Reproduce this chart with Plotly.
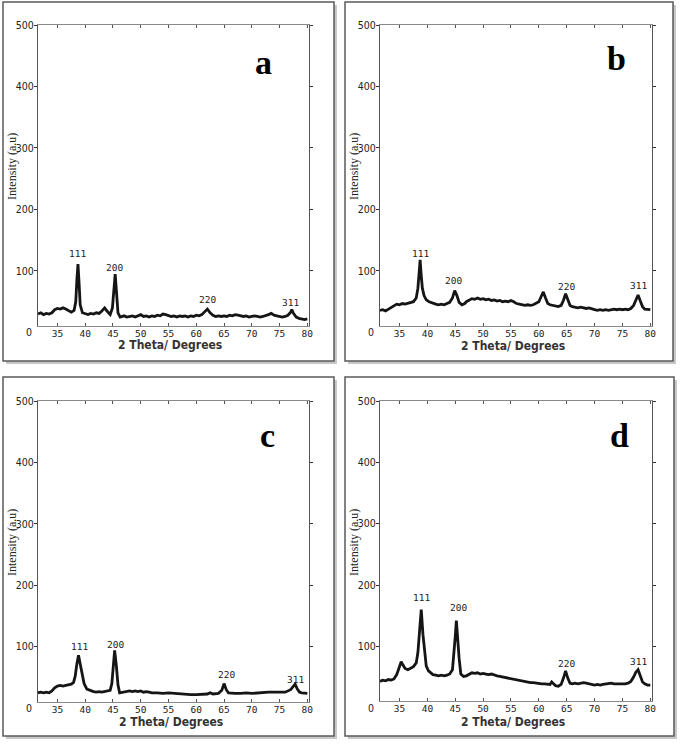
import plotly.graph_objects as go

# ---------------- data ----------------
panel_letters = ["a", "b", "c", "d"]
peak_labels = ["111", "200", "220", "311"]

a_x = [31.5, 32, 32.5, 33, 33.5, 34, 34.5, 35, 35.5, 36, 36.5, 37, 37.5, 38, 38.3, 38.5, 38.7, 38.9, 39.1, 39.5,
       40, 40.5, 41, 41.5, 42, 42.5, 43, 43.5, 44, 44.5, 44.9, 45.2, 45.4, 45.6, 45.9, 46.3, 47, 47.5, 48, 48.5,
       49, 49.5, 50, 50.5, 51, 51.5, 52, 52.5, 53, 53.5, 54, 54.5, 55, 55.5, 56, 56.5, 57, 57.5, 58, 58.5,
       59, 59.5, 60, 60.5, 61, 61.5, 62, 62.5, 63, 63.5, 64, 64.5, 65, 65.5, 66, 66.5, 67, 67.5, 68, 68.5,
       69, 69.5, 70, 70.5, 71, 71.5, 72, 72.5, 73, 73.5, 74, 74.5, 75, 75.5, 76, 76.5, 77, 77.2, 77.5, 78,
       78.5, 79, 79.5, 80]
a_y = [30, 32, 29, 31, 30, 32, 37, 39, 38, 40, 38, 36, 33, 36, 50, 85, 111, 80, 45, 32,
       31, 29, 31, 30, 32, 31, 35, 40, 34, 29, 40, 80, 95, 70, 32, 25, 27, 25, 26, 27,
       25, 27, 29, 26, 27, 25, 27, 26, 28, 27, 30, 29, 28, 26, 27, 25, 27, 26, 27, 25,
       27, 26, 28, 27, 29, 33, 38, 32, 28, 26, 27, 26, 27, 26, 28, 27, 29, 28, 27, 26,
       27, 25, 26, 27, 26, 25, 26, 27, 29, 31, 28, 27, 26, 25, 26, 28, 33, 37, 31, 25,
       23, 22, 21, 22]

b_x = [31.5, 32, 32.5, 33, 33.5, 34, 34.5, 35, 35.5, 36, 36.5, 37, 37.5, 38, 38.3, 38.5, 38.7, 38.9, 39.1, 39.4,
       39.8, 40.3, 41, 41.5, 42, 42.5, 43, 43.5, 44, 44.5, 44.9, 45.3, 45.7, 46.2, 46.7, 47, 47.5, 48, 48.5, 49,
       49.5, 50, 50.5, 51, 51.5, 52, 52.5, 53, 53.5, 54, 54.5, 55, 55.5, 56, 56.5, 57, 57.5, 58, 58.5, 59,
       59.5, 60, 60.4, 60.8, 61.2, 61.6, 62, 62.5, 63, 63.5, 64, 64.4, 64.8, 65.2, 65.6, 66, 66.5, 67, 67.5, 68,
       68.5, 69, 69.5, 70, 70.5, 71, 71.5, 72, 72.5, 73, 73.5, 74, 74.5, 75, 75.5, 76, 76.5, 77, 77.4, 77.8,
       78.2, 78.6, 79, 79.5, 80]
b_y = [36, 37, 35, 38, 40, 44, 46, 45, 47, 46, 47, 48, 50, 56, 72, 95, 118, 92, 72, 60,
       53, 50, 47, 46, 45, 46, 45, 47, 49, 56, 68, 60, 49, 45, 47, 50, 53, 55, 54, 56,
       54, 55, 53, 54, 52, 53, 51, 52, 50, 51, 50, 52, 50, 47, 46, 45, 44, 45, 44, 45,
       47, 50, 58, 66, 56, 47, 45, 44, 43, 42, 44, 52, 63, 52, 44, 42, 41, 40, 41, 40,
       39, 40, 38, 37, 36, 37, 36, 37, 36, 37, 38, 37, 38, 37, 38, 37, 39, 44, 53, 61,
       51, 42, 38, 37, 37]

c_x = [31.5, 32, 32.5, 33, 33.5, 34, 34.5, 35, 35.5, 36, 36.5, 37, 37.5, 37.9, 38.2, 38.5, 38.8, 39.1, 39.4, 39.8,
       40.3, 41, 41.5, 42, 42.5, 43, 43.5, 44, 44.5, 44.8, 45.1, 45.3, 45.6, 45.9, 46.2, 47, 47.5, 48, 48.5, 49,
       49.5, 50, 50.5, 51, 51.5, 52, 53, 54, 55, 56, 57, 58, 59, 60, 61, 62, 62.5, 63, 64, 64.6,
       65.0, 65.4, 65.8, 66.5, 67, 68, 68.5, 69, 70, 71, 72, 73, 74, 75, 76, 77, 77.5, 77.8, 78.2, 78.6,
       79, 79.5, 80]
c_y = [25, 26, 25, 26, 25, 28, 33, 36, 37, 36, 37, 38, 39, 42, 52, 72, 86, 72, 55, 40,
       31, 28, 27, 26, 27, 26, 27, 27, 29, 40, 75, 94, 70, 38, 25, 26, 27, 28, 27, 28,
       27, 28, 26, 27, 26, 25, 25, 24, 25, 24, 23, 23, 22, 22, 22, 23, 25, 23, 24, 29,
       40, 30, 25, 24, 24, 24, 25, 25, 24, 25, 25, 26, 26, 26, 26, 30, 36, 39, 31, 26,
       25, 24, 24]

d_x = [31.5, 32, 32.5, 33, 33.5, 34, 34.5, 35, 35.3, 35.6, 36, 36.5, 37, 37.5, 38, 38.3, 38.6, 38.9, 39.2, 39.5,
       39.8, 40.2, 40.7, 41, 41.5, 42, 42.5, 43, 43.5, 44, 44.5, 44.8, 45.0, 45.2, 45.4, 45.7, 46, 46.5, 47, 47.5,
       48, 48.5, 49, 49.5, 50, 50.5, 51, 51.5, 52, 52.5, 53, 53.5, 54, 54.5, 55, 55.5, 56, 56.5, 57, 57.5,
       58, 58.5, 59, 59.5, 60, 60.5, 61, 61.5, 62, 62.3, 62.7, 63, 63.5, 64, 64.4, 64.8, 65.2, 65.6, 66, 66.5,
       67, 67.5, 68, 68.5, 69, 69.5, 70, 70.5, 71, 71.5, 72, 72.5, 73, 73.5, 74, 74.5, 75, 75.5, 76, 76.5,
       77, 77.4, 77.8, 78.2, 78.6, 79, 79.5, 80]
d_y = [43, 45, 44, 46, 45, 47, 54, 68, 75, 70, 64, 62, 65, 67, 73, 90, 125, 160, 120, 90,
       68, 60, 56, 54, 53, 52, 53, 52, 53, 55, 62, 90, 116, 142, 110, 80, 55, 51, 52, 55,
       57, 56, 57, 55, 56, 55, 54, 55, 53, 52, 51, 50, 49, 49, 48, 47, 46, 44, 43, 42,
       42, 41, 41, 40, 40, 39, 39, 38, 38, 42, 38, 36, 35, 38, 48, 60, 48, 40, 39, 40,
       39, 40, 41, 40, 39, 38, 37, 38, 37, 38, 39, 40, 40, 39, 39, 38, 38, 39, 40, 43,
       50, 58, 62, 51, 42, 39, 37, 37]

# peak-label positions (2-theta, intensity) for each panel, in peak_labels order
a_lab_x = [38.6, 45.25, 62.0, 76.9]
a_lab_y = [128, 106, 54, 48]
b_lab_x = [38.8, 44.6, 64.9, 77.9]
b_lab_y = [128, 84, 75, 76]
c_lab_x = [39.0, 45.4, 65.4, 77.8]
c_lab_y = [101, 104, 54, 47]
d_lab_x = [39.0, 45.5, 64.9, 77.9]
d_lab_y = [179, 164, 72, 75]

y_ticks = [100, 200, 300, 400, 500]
x_ticks = [35, 40, 45, 50, 55, 60, 65, 70, 75, 80]

series = [(a_x, a_y, a_lab_x, a_lab_y), (b_x, b_y, b_lab_x, b_lab_y),
          (c_x, c_y, c_lab_x, c_lab_y), (d_x, d_y, d_lab_x, d_lab_y)]

# ---------------- layout geometry (pixels in a 685 x 746 page) ----------------
W, H = 685, 746
plot_boxes = [(38, 309, 25, 326), (380, 652, 25, 326), (38, 309, 401, 702), (380, 652, 401, 701)]
y_bottoms = [10.5, 10.5, 10, 11]
zero_label_y = [332, 332, 708, 708]
frames = [(3, 334, 2, 361), (345, 673, 2, 361), (3, 334, 377, 736), (345, 674, 377, 736)]
letter_pos = [(263, 62), (616, 58), (267, 436), (619, 436)]
xtitle_pos = [(170, 345), (513, 346), (171, 722), (513, 722)]
ytitle_pos = [(12, 167), (354, 167), (12, 543), (354, 543)]

TICK_FONT_Y = "Liberation Sans Narrow, DejaVu Sans Condensed, Liberation Sans"


def px(x):
    return x / W


def py(y):
    return 1 - y / H


fig = go.Figure()
layout = dict(template="none", width=W, height=H, margin=dict(l=0, r=0, t=0, b=0),
              paper_bgcolor="white", plot_bgcolor="rgba(0,0,0,0)", showlegend=False,
              font=dict(color="#222"))
shapes = []
annotations = []

for i, (xs, ys, lx, ly) in enumerate(series):
    k = "" if i == 0 else str(i + 1)
    fig.add_trace(go.Scatter(x=xs, y=ys, mode="lines", xaxis="x" + k, yaxis="y" + k,
                             line=dict(color="#151515", width=2.8), hoverinfo="skip"))
    x0, x1, y0, y1 = plot_boxes[i]
    layout["xaxis" + k] = dict(domain=[px(x0), px(x1)], anchor="y" + k, range=[31.5, 80.3],
                               tickvals=x_ticks, ticks="inside", ticklen=3, tickcolor="#555",
                               ticklabelstandoff=-2,
                               showline=True, linecolor="#8a8a8a", linewidth=1.2, mirror="ticks",
                               showgrid=False, zeroline=False,
                               tickfont=dict(family="DejaVu Sans Mono", size=9.5, color="#222"))
    layout["yaxis" + k] = dict(domain=[py(y1), py(y0)], anchor="x" + k, range=[y_bottoms[i], 500],
                               tickvals=y_ticks, ticks="outside", ticklen=3, tickcolor="#333",
                               ticklabelstandoff=-2,
                               showline=True, linecolor="#555", linewidth=1.2, mirror="ticks",
                               showgrid=False, zeroline=False,
                               tickfont=dict(family=TICK_FONT_Y, size=10.5, color="#222"))
    # "0" label at the foot of the y axis
    annotations.append(dict(text="0", x=px(x0 - 4), y=py(zero_label_y[i]), xref="paper", yref="paper",
                            xanchor="right", yanchor="middle", showarrow=False,
                            font=dict(family=TICK_FONT_Y, size=10.5, color="#222")))
    # peak labels
    for t, xx, yy in zip(peak_labels, lx, ly):
        annotations.append(dict(text=t, x=xx, y=yy, xref="x" + k, yref="y" + k, showarrow=False,
                                xanchor="center", yanchor="middle",
                                font=dict(family="DejaVu Sans Mono", size=9.5, color="#222")))
    # panel letter
    lxp, lyp = letter_pos[i]
    annotations.append(dict(text="<b>%s</b>" % panel_letters[i], x=px(lxp), y=py(lyp), xref="paper", yref="paper",
                            xanchor="center", yanchor="middle", showarrow=False,
                            font=dict(family="Liberation Serif", size=34, color="black")))
    # axis titles
    tx, ty = xtitle_pos[i]
    annotations.append(dict(text="<b>2 Theta/ Degrees</b>", x=px(tx), y=py(ty), xref="paper", yref="paper",
                            xanchor="center", yanchor="middle", showarrow=False,
                            font=dict(family=TICK_FONT_Y, size=12, color="#333")))
    tx, ty = ytitle_pos[i]
    annotations.append(dict(text="Intensity (a.u)", x=px(tx), y=py(ty), xref="paper", yref="paper",
                            xanchor="center", yanchor="middle", textangle=-90, showarrow=False,
                            font=dict(family="Liberation Serif", size=12, color="#222")))
    # framed panel with drop shadow
    fx0, fx1, fy0, fy1 = frames[i]
    shapes.append(dict(type="rect", xref="paper", yref="paper", x0=px(fx0 + 3), x1=px(fx1 + 3),
                       y0=py(fy1 + 3), y1=py(fy0 + 3), line=dict(width=0), fillcolor="#c8c8c8", layer="below"))
    shapes.append(dict(type="rect", xref="paper", yref="paper", x0=px(fx0), x1=px(fx1),
                       y0=py(fy1), y1=py(fy0), line=dict(color="#5a5a5a", width=1.5), fillcolor="white", layer="below"))

layout["shapes"] = shapes
layout["annotations"] = annotations
fig.update_layout(**layout)
fig.write_html("out.html", config={"displayModeBar": False},
               post_script="document.body.style.margin='0';document.body.style.overflow='hidden';")
